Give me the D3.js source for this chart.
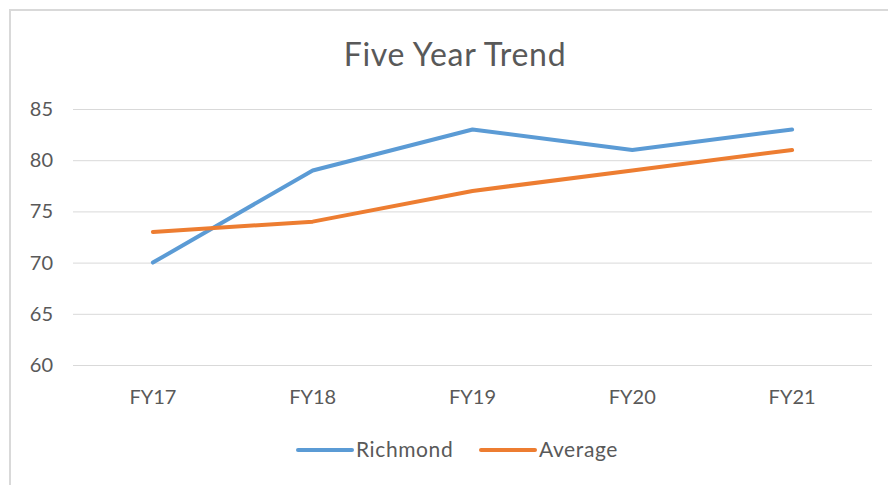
<!DOCTYPE html>
<html><head><meta charset="utf-8">
<script src="https://cdn.jsdelivr.net/npm/d3@7"></script>
<style>body{margin:0;background:#fff}svg{display:block}text{font-family:Lato,"Open Sans",sans-serif}</style>
</head><body>
<svg id="c" width="888" height="485"></svg>
<script>
const categories = ["FY17","FY18","FY19","FY20","FY21"];
const richmond = [70,79,83,81,83];
const average = [73,74,77,79,81];
const yTicks = [60,65,70,75,80,85];
const seriesNames = ["Richmond","Average"];
const colors = ["#5B9BD5","#ED7D31"];

const svg = d3.select("#c");
svg.append("rect").attr("x",10).attr("y",10).attr("width",900).attr("height",500)
  .attr("fill","#fff").attr("stroke","#d9d9d9").attr("stroke-width",2);

const pL=73,pR=872,pT=109,pB=365;
const x = d3.scaleBand().domain(categories).range([pL,pR]);
const y = d3.scaleLinear().domain([60,85]).range([pB,pT]);

svg.append("text").attr("x",455).attr("y",66).attr("text-anchor","middle")
  .attr("font-size",32).attr("letter-spacing",0.7).attr("fill","#595959").text("Five Year Trend");

const ya = svg.append("g").attr("transform",`translate(${pL},0)`)
  .call(d3.axisLeft(y).tickValues(yTicks).tickSize(-(pR-pL)).tickPadding(20));
ya.select(".domain").remove();
ya.selectAll(".tick line").attr("stroke","#d9d9d9").attr("stroke-width",1);
ya.selectAll(".tick text").attr("font-size",20).attr("fill","#595959").attr("font-family","Lato,'Open Sans',sans-serif");

const xa = svg.append("g").attr("transform",`translate(0,${pB})`)
  .call(d3.axisBottom(x).tickSize(0));
xa.select(".domain").remove();
xa.selectAll(".tick text").attr("y",39).attr("dy",0).attr("font-size",20).attr("fill","#595959").attr("font-family","Lato,'Open Sans',sans-serif");

const line = d3.line().x((d,i)=>x(categories[i])+x.bandwidth()/2).y(d=>y(d));
[richmond,average].forEach((s,i)=>{
  svg.append("path").datum(s).attr("d",line).attr("fill","none")
    .attr("stroke",colors[i]).attr("stroke-width",4).attr("stroke-linecap","round").attr("stroke-linejoin","round");
});

const lx=[298,481];
seriesNames.forEach((n,i)=>{
  svg.append("line").attr("x1",lx[i]).attr("x2",lx[i]+54).attr("y1",450).attr("y2",450)
    .attr("stroke",colors[i]).attr("stroke-width",4).attr("stroke-linecap","round");
  svg.append("text").attr("x",lx[i]+58).attr("y",457).attr("font-size",21).attr("letter-spacing",0.6).attr("fill","#595959").text(n);
});
</script>
</body></html>
